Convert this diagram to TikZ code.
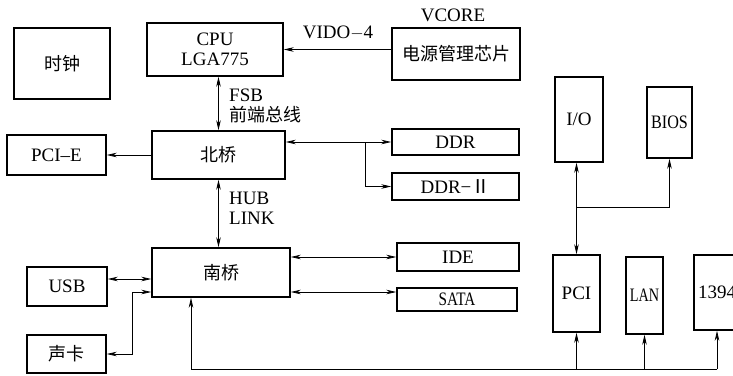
\documentclass[tikz,border=0pt]{standalone}
\usepackage{fontspec}
\usepackage{graphicx}
\setmainfont{Liberation Serif}
\newfontfamily\cjk{Noto Sans CJK SC}
\usetikzlibrary{arrows.meta}

\begin{document}
\begin{tikzpicture}[x=1pt,y=-1pt,
  >={Stealth[length=10pt,width=4.5pt,inset=3pt]},
  box/.style={draw, line width=1.4pt, inner sep=0pt, align=center,
    font=\fontsize{19}{20}\selectfont},
  hanzi/.style={font=\fontsize{18}{20}\selectfont\cjk},
  lbl/.style={inner sep=0pt, font=\fontsize{19}{20}\selectfont},
  link/.style={line width=0.8pt}]
\useasboundingbox (0,0) rectangle (733,375);

% upper row: clock, CPU and power management
\node[box, hanzi, minimum width=96pt, minimum height=71pt] (clk) at (62,63.5) {时钟};
\node[box, minimum width=136pt, minimum height=53pt] (cpu) at (215,49.5) {CPU\\LGA775};
\node[box, hanzi, minimum width=128pt, minimum height=52pt] (pwr) at (456,54) {电源管理芯片};
\node[lbl] (vcore) at (453,15) {VCORE};
\node[lbl] (vido) at (338,33) {VIDO$-$4};

% north bridge and its neighbours
\node[box, minimum width=99pt, minimum height=40pt] (pcie) at (56.5,155) {PCI–E};
\node[box, hanzi, minimum width=133pt, minimum height=48pt] (nb) at (218.5,155) {北桥};
\node[box, minimum width=127pt, minimum height=26pt] (ddr) at (455.5,142) {DDR};
\node[box, minimum width=127pt, minimum height=27pt] (ddr2) at (455.5,186.5) {DDR−{\cjk Ⅱ}};
\node[lbl, anchor=west] (fsb) at (229,95) {FSB};
\node[lbl, hanzi, anchor=west] (qdzx) at (229,115) {前端总线};
\node[lbl, anchor=west] (hub) at (229,198) {HUB};
\node[lbl, anchor=west] (link) at (229,218) {LINK};

% south bridge and its neighbours
\node[box, hanzi, minimum width=138pt, minimum height=49pt] (sb) at (221,272.5) {南桥};
\node[box, minimum width=80pt, minimum height=39pt] (usb) at (67,286.5) {USB};
\node[box, hanzi, minimum width=79pt, minimum height=38pt] (snd) at (66.5,354) {声卡};
\node[box, minimum width=122pt, minimum height=28pt] (ide) at (458,257) {IDE};
\node[box, minimum width=120pt, minimum height=23pt] (sata) at (457,299.5) {\scalebox{0.8}[1]{SATA}};

% expansion devices on the right
\node[box, minimum width=48pt, minimum height=85pt] (io) at (579,119.5) {I/O};
\node[box, minimum width=45pt, minimum height=71pt] (bios) at (669.5,122.5) {\scalebox{0.85}[1]{BIOS}};
\node[box, minimum width=47pt, minimum height=77pt] (pci) at (576.5,293.5) {PCI};
\node[box, minimum width=37pt, minimum height=77pt] (lan) at (644.5,295.5) {\scalebox{0.75}[1]{LAN}};
\node[box, minimum width=46pt, minimum height=75pt] (f1394) at (717,292.5) {1394};

% helper rows and columns for the routed connectors
\coordinate (split) at (365,0);
\coordinate (usbrow) at (0,279);
\coordinate (sndrow) at (0,292);
\coordinate (sndx) at (132,0);
\coordinate (busrow) at (0,369);
\coordinate (busx) at (191,0);
\coordinate (biosrow) at (0,207);

% connectors
\draw[link,->] (pwr.west |- cpu.east) -- (cpu.east);
\draw[link,<->] (cpu.south -| nb.north) -- (nb.north);
\draw[link,->] (nb.west) -- (pcie.east);
\draw[link,<->] (nb.east |- ddr.west) -- (ddr.west);
\draw[link,->] (split |- ddr.west) |- (ddr2.west);
\draw[link,<->] (nb.south) -- (nb.south |- sb.north);
\draw[link,<->] (usb.east |- usbrow) -- (sb.west |- usbrow);
\draw[link,<->] (sb.west |- sndrow) -| (sndx |- snd.east) -- (snd.east);
\draw[link,<->] (sb.east |- ide.west) -- (ide.west);
\draw[link,<->] (sb.east |- sndrow) -- (sata.west |- sndrow);
\draw[link,->] (f1394.south |- busrow) -| (busx |- sb.south);
\draw[link,->] (pci.south |- busrow) -- (pci.south);
\draw[link,->] (lan.south |- busrow) -- (lan.south);
\draw[link,->] (f1394.south |- busrow) -- (f1394.south);
\draw[link,<->] (pci.north |- io.south) -- (pci.north);
\draw[link,->] (pci.north |- biosrow) -| (bios.south);
\end{tikzpicture}
\end{document}
